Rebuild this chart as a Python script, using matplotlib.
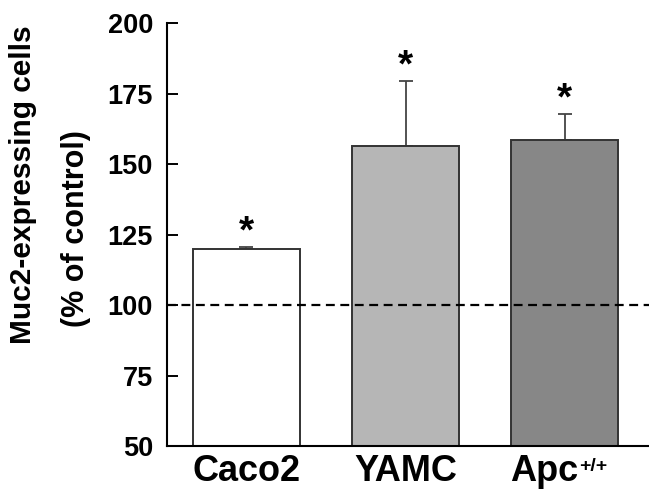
import numpy as np
import matplotlib
matplotlib.use("Agg")
import matplotlib.pyplot as plt

plt.rcParams["font.family"] = "Liberation Sans"
plt.rcParams["font.weight"] = "bold"

cells = ["Caco2", "YAMC", "Apc"]
cell_sup = ["", "", "+/+"]
muc2 = [120.0, 156.4, 158.6]
sem = [0.7, 23.0, 9.0]
bar_colors = ["#ffffff", "#b6b6b6", "#878787"]
yticks = [50, 75, 100, 125, 150, 175, 200]

fig = plt.figure(figsize=(6.49, 4.91), dpi=100)
ax = fig.add_axes([0.257, 0.0916, 0.743, 0.8615])

x = np.arange(len(cells))
ax.bar(x, np.array(muc2) - 50, bottom=50, width=0.67, color=bar_colors,
       edgecolor="#333333", linewidth=1.4, zorder=2)
ax.errorbar(x, muc2, yerr=[np.zeros(len(sem)), sem], fmt="none",
            ecolor="#444444", elinewidth=1.3, capsize=5, capthick=1.3, zorder=1)
for xi, m, s in zip(x, muc2, sem):
    ax.annotate("*", (xi, m + s), xytext=(0, 10.5), textcoords="offset points",
                ha="center", va="center", fontsize=28, fontweight="bold")

ax.axhline(100, color="black", linestyle=(0, (4, 2.5)), linewidth=1.6, zorder=3)

ax.set_xlim(-0.5, 2.53)
ax.set_ylim(50, 200)
ax.set_yticks(yticks)
ax.set_xticks([])
ax.tick_params(axis="y", direction="in", length=8, width=1.4, labelsize=19.5, pad=10)
for lab in ax.get_yticklabels():
    lab.set_fontweight("bold")

# category labels (the last one carries a superscript)
xtr = ax.get_xaxis_transform()
for xi, name, sup in zip(x, cells, cell_sup):
    if sup:
        ax.annotate(name, (xi, 0), xycoords=xtr, xytext=(10, -6),
                    textcoords="offset points", ha="right", va="top",
                    fontsize=26, fontweight="bold", annotation_clip=False)
        ax.annotate(sup, (xi, 0), xycoords=xtr, xytext=(10.5, -8.5),
                    textcoords="offset points", ha="left", va="top",
                    fontsize=14, fontweight="bold", annotation_clip=False)
    else:
        ax.annotate(name, (xi, 0), xycoords=xtr, xytext=(0, -6),
                    textcoords="offset points", ha="center", va="top",
                    fontsize=26, fontweight="bold", annotation_clip=False)

ax.spines["top"].set_visible(False)
ax.spines["right"].set_visible(False)
ax.spines["left"].set_linewidth(1.5)
ax.spines["bottom"].set_linewidth(1.5)

fig.text(23 / 649, 1 - 185 / 491, "Muc2-expressing cells", rotation=90,
         ha="center", va="center", fontsize=21.5, fontweight="bold")
fig.text(76 / 649, 1 - 229 / 491, "(% of control)", rotation=90,
         ha="center", va="center", fontsize=22, fontweight="bold")

fig.savefig("out.png", dpi=100)
